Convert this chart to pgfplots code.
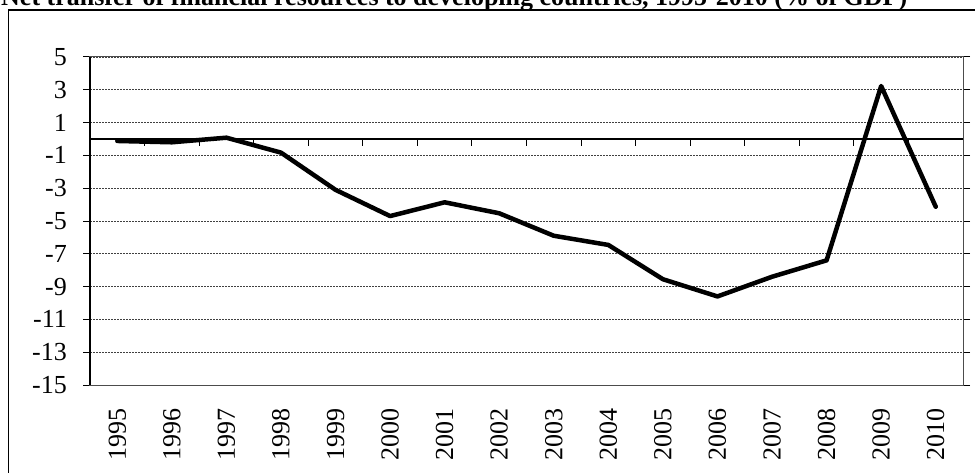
\documentclass[border=0pt]{standalone}
\usepackage{pgfplots}
\pgfplotsset{compat=1.18}
\usepackage{fontspec}
\setmainfont{Liberation Serif}
\begin{document}
\begin{tikzpicture}[x=1pt,y=1pt]
\begin{scope}
\clip (0,0) rectangle (975,-473);
\node[anchor=base west, inner sep=0pt, font=\bfseries\fontsize{26}{30}\selectfont] at (1,-6) {Net transfer of financial resources to developing countries, 1995-2010 (\% of GDP)};
\draw[line width=1.2pt] (8.5,-10) rectangle (1000,-500);
\end{scope}
\begin{axis}[
  at={(90pt,-385pt)}, anchor=south west,
  scale only axis, width=873pt, height=328pt,
  xmin=-0.5, xmax=15.5, ymin=-15, ymax=5,
  xtick={0,...,15},
  xticklabels={1995,1996,1997,1998,1999,2000,2001,2002,2003,2004,2005,2006,2007,2008,2009,2010},
  ytick={-15,-13,-11,-9,-7,-5,-3,-1,1,3,5},
  /pgf/number format/assume math mode=true,
  tick align=outside, major tick length=7pt,
  xtick style={draw=none},
  ytick style={black, line width=1pt},
  tick label style={font=\fontsize{26}{30}\selectfont},
  xticklabel style={rotate=90, anchor=east, inner sep=0pt},
  yticklabel style={anchor=east, inner sep=0pt},
  xticklabel shift=16pt, yticklabel shift=16pt,
  ymajorgrids, grid style={black!75, line width=0.9pt, dash pattern=on 2pt off 1pt},
  axis line style={black!70, line width=1pt},
  clip=false,
]
\draw[black, line width=1.3pt] (rel axis cs:0,0) -- (rel axis cs:0,1);
\draw[black, line width=1.2pt] (axis cs:-0.5,0) -- (axis cs:15.5,0);
\pgfplotsinvokeforeach{0.5,1.5,2.5,3.5,4.5,5.5,6.5,7.5,8.5,9.5,10.5,11.5,12.5,13.5,14.5}{
  \draw[black, line width=1pt] (axis cs:#1,0) -- ([yshift=-7pt]axis cs:#1,0);
}
\addplot[black, line width=4.5pt, line join=round, line cap=round] coordinates {
(0,-0.12) (1,-0.2) (2,0.08) (3,-0.83) (4,-3.1) (5,-4.7) (6,-3.86) (7,-4.53)
(8,-5.9) (9,-6.46) (10,-8.55) (11,-9.6) (12,-8.4) (13,-7.4) (14,3.23) (15,-4.13)
};
\end{axis}
\pgfresetboundingbox
\useasboundingbox (0,0) rectangle (975,-473);
\end{tikzpicture}
\end{document}
